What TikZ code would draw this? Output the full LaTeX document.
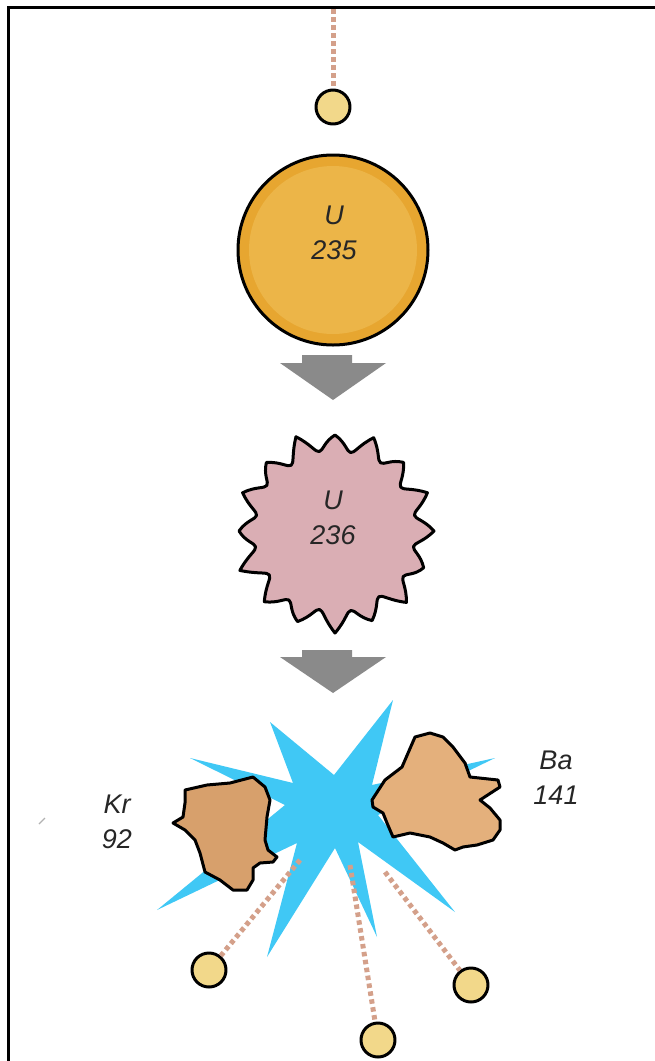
\documentclass[tikz,border=0pt]{standalone}
\usepackage{fontspec}
\setsansfont{Liberation Sans}
\definecolor{neutronfill}{RGB}{242,216,138}
\definecolor{trailcol}{RGB}{212,160,138}
\definecolor{uouter}{RGB}{231,166,48}
\definecolor{uinner}{RGB}{236,181,72}
\definecolor{excited}{RGB}{218,174,180}
\definecolor{flash}{RGB}{64,200,245}
\definecolor{krfill}{RGB}{215,160,108}
\definecolor{bafill}{RGB}{228,176,124}
\definecolor{arrowgray}{RGB}{138,138,138}
\begin{document}
\begin{tikzpicture}[x=1pt,y=-1pt,
  outline/.style={draw=black,line width=3pt,line join=round},
  neutron/.style={circle,outline,fill=neutronfill,minimum size=34pt,inner sep=0pt},
  trail/.style={draw=trailcol,line width=5pt,dash pattern=on 4.5pt off 3.5pt},
  isotope/.style={font=\sffamily\itshape\fontsize{27}{35}\selectfont,align=center,text=black!85,inner sep=0pt},
  flowarrow/.style={fill=arrowgray,draw=none}
]
\useasboundingbox (0,0) rectangle (655,1061);

% frame (top and left edges only)
\draw[line width=3pt] (8,1061) -- (8,7) -- (655,7);

% incoming neutron
\coordinate (src) at (333,9);
\node[neutron] (n0) at (333,107) {};
\draw[trail] (src) -- (n0);

% uranium-235 nucleus
\node[circle,draw=black,line width=3pt,fill=uouter,minimum size=190pt,inner sep=0pt] (u235) at (333,250) {};
\fill[uinner] (u235.center) circle[radius=84pt];
\node[isotope] (t235) at (334,233) {U\\235};

% first step arrow
\fill[flowarrow] (302,355) -- (352,355) -- (352,363) -- (386,363) -- (333,400) -- (280,363) -- (302,363) -- cycle;

% excited uranium-236 nucleus: sixteen spikes with rounded valleys
\begin{scope}[shift={(335,531)}]
\coordinate (u236) at (0,0);
\filldraw[outline,fill=excited] (0:99)
  \foreach \k/\r/\R in {0/80/96,1/82/101,2/79/97,3/81/102,4/80/98,5/83/100,6/79/103,7/81/96,
                        8/80/100,9/82/97,10/79/102,11/81/96,12/80/101,13/82/97,14/79/100,15/81/99}
  { .. controls ({\k*22.5+7}:{\r+9}) and ({\k*22.5+8.5}:\r) .. ({\k*22.5+11.25}:\r)
    .. controls ({\k*22.5+14}:\r) and ({\k*22.5+15.5}:{\r+9}) .. ({\k*22.5+22.5}:\R) } -- cycle;
\end{scope}
\node[isotope] (t236) at (333,518) {U\\236};

% second step arrow
\fill[flowarrow] (302,650) -- (352,650) -- (352,657) -- (386,657) -- (333,693) -- (280,657) -- (302,657) -- cycle;

% fission flash
\coordinate (blast) at (335,800);
\fill[flash] (393,700) -- (372,785) -- (495,758) -- (378,815) -- (455,912) -- (358,842)
  -- (377,937) -- (335,848) -- (267,957) -- (297,843) -- (157,910) -- (285,805)
  -- (190,758) -- (293,783) -- (270,722) -- (334,775) -- cycle;

% released neutrons and their trails
\coordinate (e1) at (300,860);
\coordinate (e2) at (350,865);
\coordinate (e3) at (385,872);
\node[neutron] (n1) at (209,970) {};
\node[neutron] (n2) at (378,1040) {};
\node[neutron] (n3) at (471,985) {};
\draw[trail] (e1) -- (n1);
\draw[trail] (e2) -- (n2);
\draw[trail] (e3) -- (n3);

% krypton fragment
\filldraw[outline,fill=krfill] (185,790) -- (207,785) -- (230,783) -- (253,777) -- (265,787) -- (270,800)
  -- (267,817) -- (265,840) -- (268,850) -- (277,857) -- (273,862) -- (260,863) -- (253,868)
  -- (253,880) -- (247,890) -- (233,890) -- (220,880) -- (205,872) -- (200,853) -- (195,840)
  -- (185,830) -- (173,823) -- (183,817) -- (185,803) -- cycle;

% barium fragment
\filldraw[outline,fill=bafill] (372,800) -- (385,780) -- (402,767) -- (415,737) -- (430,733) -- (443,737)
  -- (453,747) -- (465,763) -- (470,777) -- (498,780) -- (500,787) -- (480,800) -- (490,808)
  -- (500,820) -- (500,830) -- (493,840) -- (477,845) -- (463,847) -- (455,850) -- (443,843)
  -- (430,837) -- (410,833) -- (393,837) -- (387,823) -- (383,813) -- (373,807) -- cycle;

\node[isotope] (kr) at (117,822) {Kr\\92};
\node[isotope] (ba) at (556,778) {Ba\\141};

% small stray stroke
\draw[gray!60,line width=1.2pt] (39,824) -- (45,818);
\end{tikzpicture}
\end{document}
